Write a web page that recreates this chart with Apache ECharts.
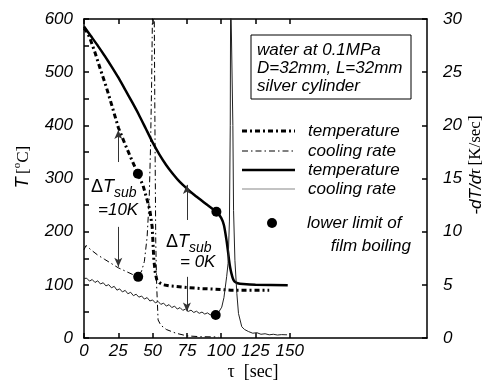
<!DOCTYPE html>
<html>
<head>
<meta charset="utf-8">
<script src="https://cdn.jsdelivr.net/npm/echarts@6/dist/echarts.min.js"></script>
<style>
html,body{margin:0;padding:0;background:#fff;}
#chart{width:495px;height:385px;}
</style>
</head>
<body>
<div id="chart"></div>
<script>
// ---- data ----
const xTickValues = [0, 25, 50, 75, 100, 125, 150];
const leftTickValues = [0, 50, 100, 150, 200, 250, 300, 350, 400, 450, 500, 550, 600];
const leftLabelValues = [0, 100, 200, 300, 400, 500, 600];

// dT_sub = 10K : temperature (left axis)
const tenKTempTime = [0, 2, 4, 8, 12, 16, 20, 25, 30, 35, 39.3, 43, 46, 48, 49.7, 50.9, 52, 53, 55, 58, 62, 67, 75, 85, 95, 107, 120, 135];
const tenKTemp     = [583, 576, 566, 537, 505, 474, 440, 396, 364, 334, 309, 287, 260, 240, 209, 147, 122, 110, 104, 100, 98, 97, 95, 93, 92, 90, 90, 90];
// dT_sub = 10K : cooling rate (right axis)
const tenKRateTime = [0, 1.5, 5, 10, 15, 20, 25, 30, 35, 39.5, 42, 44, 46, 47.5, 48.5, 49.3, 49.9, 50.5, 51.2, 51.8, 52.3, 53, 54, 56, 60, 67, 75, 85, 98];
const tenKRate     = [8.3, 8.7, 8.3, 7.8, 7.4, 7.0, 6.6, 6.3, 6.0, 5.75, 6.3, 7.2, 9.5, 13, 18, 24, 30.5, 33, 30.5, 18, 9, 4.8, 1.7, 1.2, 0.8, 0.45, 0.2, 0.12, 0.1];

// dT_sub = 0K : temperature (left axis)
const zeroKTempTime = [0, 5, 10, 15, 20, 25, 30, 35, 40, 45, 50, 55, 60, 65, 70, 75, 80, 85, 90, 96.5, 100, 102, 103.8, 105, 105.7, 106.5, 107.4, 108.5, 109.8, 112, 116, 125, 148.5];
const zeroKTemp     = [586, 568, 550, 531, 511, 490, 467, 444, 420, 394, 368, 345, 325, 308, 293, 281, 270, 260, 250, 237.5, 226, 212, 185, 162, 147, 133, 122, 112, 106, 103, 101.5, 100, 99];
// dT_sub = 0K : cooling rate (right axis)
const zeroKRateTime = [0, 2, 4, 6, 8, 10, 12, 14, 16, 18, 20, 22, 24, 26, 28, 30, 32, 34, 36, 38, 40, 42, 44, 46, 48, 50, 52, 54, 56, 58, 60, 62, 64, 66, 68, 70, 72, 74, 76, 78, 80, 82, 84, 86, 88, 90, 92, 94, 96, 98, 100.4, 102, 104, 105, 106, 106.6, 106.9, 108.1, 108.5, 109, 110, 111.4, 112.6, 115, 117, 120, 123, 126, 129, 132, 135, 138, 141, 144, 148];
const zeroKRate     = [5.6, 5.62, 5.35, 5.5, 5.22, 5.38, 5.08, 5.2, 4.9, 5.02, 4.72, 4.86, 4.5, 4.62, 4.33, 4.48, 4.16, 4.3, 3.98, 4.12, 3.84, 3.95, 3.66, 3.8, 3.48, 3.58, 3.3, 3.44, 3.16, 3.28, 3.0, 3.14, 2.86, 3.0, 2.72, 2.86, 2.6, 2.72, 2.5, 2.62, 2.4, 2.52, 2.32, 2.44, 2.25, 2.36, 2.18, 2.3, 2.16, 2.4, 2.9, 3.8, 5.8, 7, 11, 20, 33, 33, 20, 12, 7.3, 4.2, 2.3, 1.06, 0.8, 0.6, 0.45, 0.5, 0.35, 0.4, 0.3, 0.35, 0.28, 0.32, 0.3];

// lower limit of film boiling
const limitTempPoints = [[39.3, 309], [96.5, 237.5]];
const limitRatePoints = [[39.5, 5.75], [96, 2.16]];

// annotation arrows (left-axis units): [x, yFrom, yTo]
const arrows = [[25, 331, 391], [25, 209, 134], [75, 222, 288], [75, 115, 50]];

const infoLines = ['water at 0.1MPa', 'D=32mm, L=32mm', 'silver cylinder'];
const legendNames = ['temperature', 'cooling rate', 'temperature', 'cooling rate'];

// ---- build ----
function pairs(xs, ys) { return xs.map((x, i) => [x, ys[i]]); }
const F = 'Liberation Sans, Arial, sans-serif';
const SERIF = 'Liberation Serif, Times New Roman, serif';

const chart = echarts.init(document.getElementById('chart'), null, {renderer: 'canvas'});

const axisLineStyle = {color: '#000', width: 1.5};
const baseX = {
  type: 'value', min: 0, max: 250,
  axisLine: {show: true, onZero: false, lineStyle: axisLineStyle},
  axisTick: {show: true, inside: true, length: 5, customValues: xTickValues, lineStyle: {color: '#000', width: 1.5}},
  splitLine: {show: false}
};

const option = {
  animation: false,
  backgroundColor: '#fff',
  grid: {left: 84, right: 68, top: 19, bottom: 47, containLabel: false},
  xAxis: [
    Object.assign({}, baseX, {position: 'bottom',
      axisLabel: {customValues: xTickValues, margin: 5, color: '#000', fontStyle: 'italic', fontSize: 17, fontFamily: F}}),
    Object.assign({}, baseX, {position: 'top', axisLabel: {show: false}})
  ],
  yAxis: [
    {type: 'value', min: 0, max: 600, interval: 100, position: 'left',
     axisLine: {show: true, onZero: false, lineStyle: axisLineStyle},
     axisTick: {show: true, inside: true, length: 5, customValues: leftTickValues, lineStyle: {color: '#000', width: 1.5}},
     axisLabel: {customValues: leftLabelValues, margin: 11, color: '#000', fontStyle: 'italic', fontSize: 17, fontFamily: F},
     splitLine: {show: false}},
    {type: 'value', min: 0, max: 30, interval: 5, position: 'right',
     axisLine: {show: true, onZero: false, lineStyle: axisLineStyle},
     axisTick: {show: true, inside: true, length: 5, lineStyle: {color: '#000', width: 1.5}},
     axisLabel: {margin: 16, color: '#000', fontStyle: 'italic', fontSize: 17, fontFamily: F},
     splitLine: {show: false}}
  ],
  series: [
    {type: 'line', name: 'T10', data: pairs(tenKTempTime, tenKTemp), yAxisIndex: 0, showSymbol: false, smooth: false,
     lineStyle: {color: '#000', width: 3, type: [5, 3, 2, 3]}, z: 3,
     markLine: {silent: true, symbol: ['none', 'arrow'], symbolSize: [6, 9], animation: false,
       label: {show: false}, lineStyle: {color: '#333', width: 1, type: 'solid'},
       data: arrows.map(a => [{coord: [a[0], a[1]]}, {coord: [a[0], a[2]]}])}},
    {type: 'line', name: 'R10', data: pairs(tenKRateTime, tenKRate), yAxisIndex: 1, showSymbol: false,
     lineStyle: {color: '#000', width: 1, type: [6, 3, 1.5, 3]}, clip: true},
    {type: 'line', name: 'T0', data: pairs(zeroKTempTime, zeroKTemp), yAxisIndex: 0, showSymbol: false, smooth: 0.2,
     lineStyle: {color: '#000', width: 2.5}, z: 3},
    {type: 'line', name: 'R0', data: pairs(zeroKRateTime, zeroKRate), yAxisIndex: 1, showSymbol: false,
     lineStyle: {color: '#222', width: 1}, clip: true},
    {type: 'scatter', data: limitTempPoints, yAxisIndex: 0, symbolSize: 10, itemStyle: {color: '#000', opacity: 1}, z: 5},
    {type: 'scatter', data: limitRatePoints, yAxisIndex: 1, symbolSize: 10, itemStyle: {color: '#000', opacity: 1}, z: 5}
  ],
  graphic: []
};

const G = option.graphic;
// info box
G.push({type: 'rect', shape: {x: 251, y: 35, width: 160, height: 64}, style: {fill: '#fff', stroke: '#000', lineWidth: 1}, z: 10});
infoLines.forEach((t, i) => G.push({type: 'text', x: 257, y: 50 + i * 18, z: 11,
  style: {text: t, font: 'italic 17px ' + F, fill: '#000', textVerticalAlign: 'middle'}}));

// legend
const legendY = [131, 151, 170, 189];
const legendStyles = [
  {lineWidth: 3, lineDash: [5, 3, 2, 3], stroke: '#000'},
  {lineWidth: 1, lineDash: [6, 3, 1.5, 3], stroke: '#000'},
  {lineWidth: 2.5, stroke: '#000'},
  {lineWidth: 1.2, stroke: '#888'}
];
legendNames.forEach((n, i) => {
  G.push({type: 'line', shape: {x1: 242, y1: legendY[i], x2: 295, y2: legendY[i]}, style: legendStyles[i], z: 10});
  G.push({type: 'text', x: 308, y: legendY[i], z: 11, style: {text: n, font: 'italic 17px ' + F, fill: '#000', textVerticalAlign: 'middle'}});
});
G.push({type: 'circle', shape: {cx: 272, cy: 223, r: 5}, style: {fill: '#000'}, z: 10});
G.push({type: 'text', x: 307, y: 223, z: 11, style: {text: 'lower limit of', font: 'italic 17px ' + F, fill: '#000', textVerticalAlign: 'middle'}});
G.push({type: 'text', x: 411, y: 246, z: 11, style: {text: 'film boiling', font: 'italic 17px ' + F, fill: '#000', textAlign: 'right', textVerticalAlign: 'middle'}});

// ΔT_sub annotations
function dT(x, y, eq, eqx, eqy) {
  G.push({type: 'text', x: x, y: y, z: 11, style: {text: 'Δ', font: '18px ' + F, fill: '#000', textVerticalAlign: 'middle'}});
  G.push({type: 'text', x: x + 12, y: y, z: 11, style: {text: 'T', font: 'italic 18px ' + F, fill: '#000', textVerticalAlign: 'middle'}});
  G.push({type: 'text', x: x + 23, y: y + 6, z: 11, style: {text: 'sub', font: 'italic 14px ' + F, fill: '#000', textVerticalAlign: 'middle'}});
  G.push({type: 'text', x: eqx, y: eqy, z: 11, style: {text: eq, font: 'italic 17px ' + F, fill: '#000', textVerticalAlign: 'middle'}});
}
dT(91, 187, '=10K', 98, 210);
dT(166, 242, '= 0K', 180, 262);

// axis titles
G.push({type: 'text', x: 22, y: 167, rotation: Math.PI / 2, z: 11,
  style: {text: '{i|T} {s|[}{p|o}{s|C]}', textAlign: 'center', textVerticalAlign: 'middle',
    rich: {i: {font: 'italic 18px ' + F, fill: '#000', verticalAlign: 'bottom', lineHeight: 20},
           s: {font: '17px ' + SERIF, fill: '#000', verticalAlign: 'bottom', lineHeight: 20},
           p: {font: '11px ' + SERIF, fill: '#000', verticalAlign: 'top', lineHeight: 20}}}});
G.push({type: 'text', x: 476, y: 165, rotation: Math.PI / 2, z: 11,
  style: {text: '{i|-dT/d}{t|τ} {s|[K/sec]}', textAlign: 'center', textVerticalAlign: 'middle',
    rich: {i: {font: 'italic 17px ' + F, fill: '#000'},
           t: {font: 'italic 17px ' + SERIF, fill: '#000'},
           s: {font: '17px ' + SERIF, fill: '#000'}}}});
G.push({type: 'text', x: 253, y: 372, z: 11,
  style: {text: 'τ  [sec]', font: '18px ' + SERIF, fill: '#000', textAlign: 'center', textVerticalAlign: 'middle'}});

chart.setOption(option);
</script>
</body>
</html>
